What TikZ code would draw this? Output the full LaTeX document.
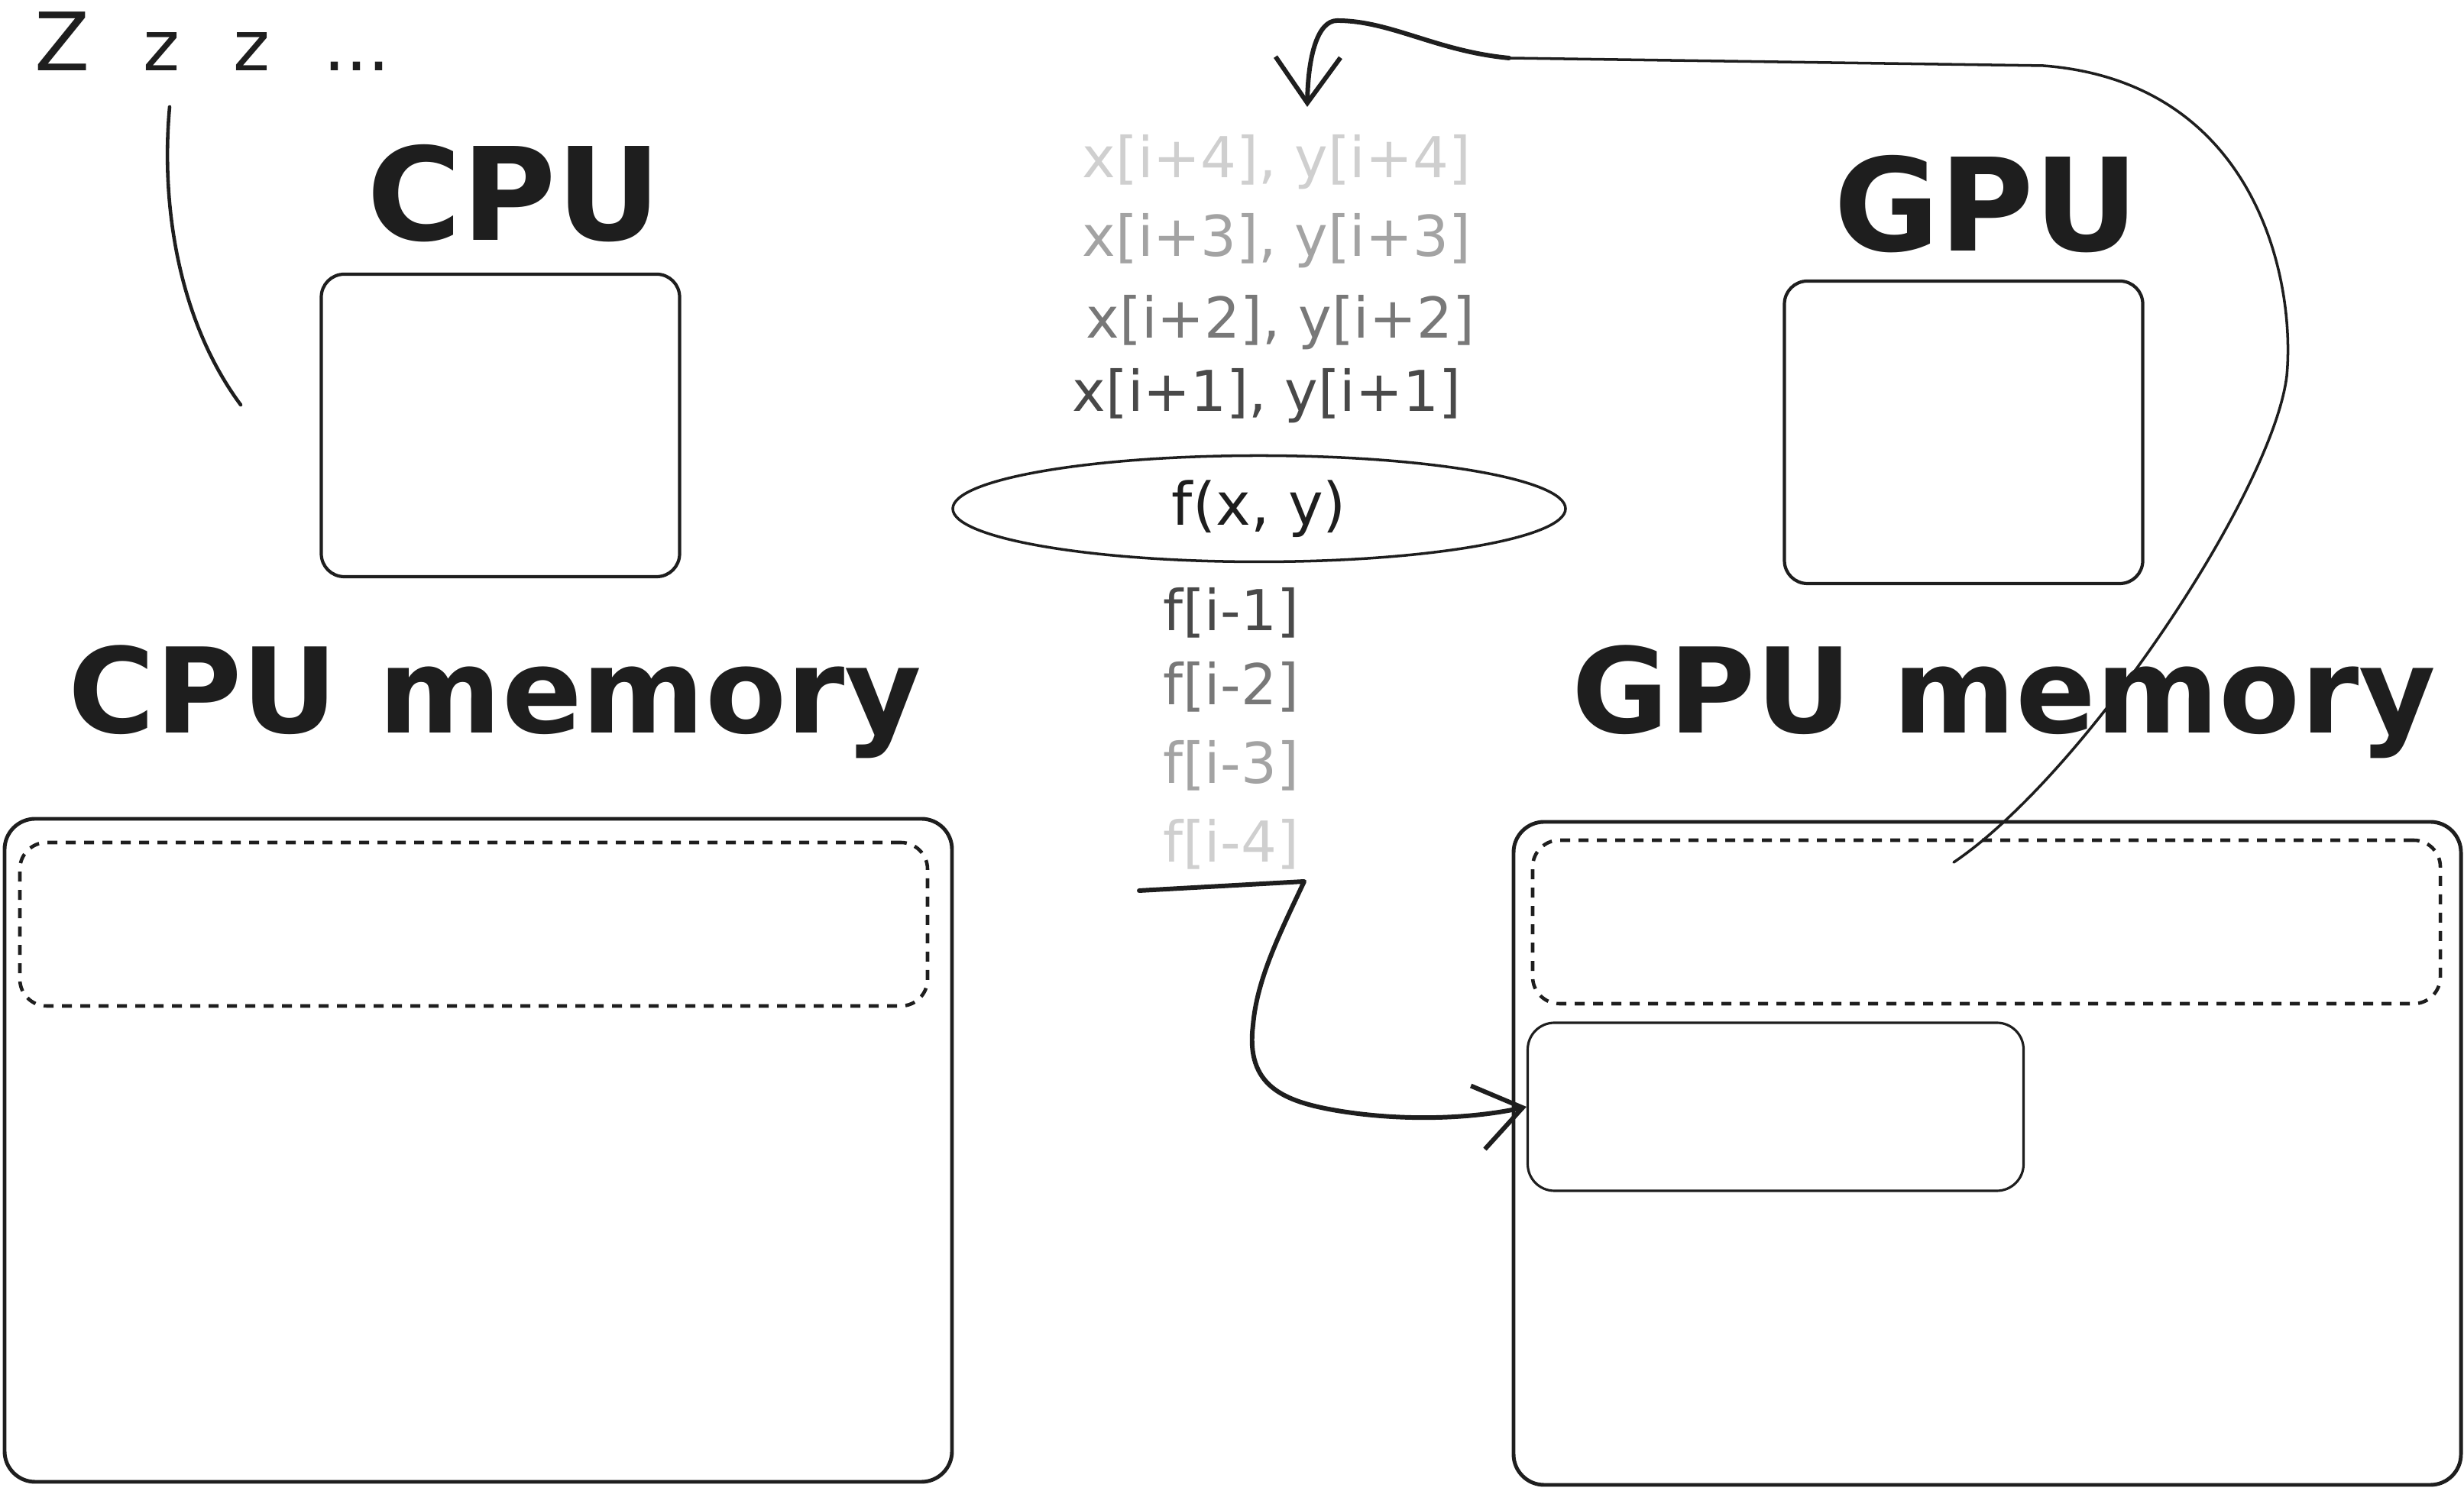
\documentclass[tikz,border=0pt]{standalone}
\usepackage{fontspec}
\setmainfont{DejaVu Sans}
\usetikzlibrary{positioning,arrows.meta,shapes.geometric}
\definecolor{ink}{HTML}{1E1E1E}
\definecolor{shade1}{HTML}{494949}
\definecolor{shade2}{HTML}{787878}
\definecolor{shade3}{HTML}{A3A3A3}
\definecolor{shade4}{HTML}{CFCFCF}

\begin{document}
\begin{tikzpicture}[
  proc/.style={draw=ink, line width=1.2pt, rounded corners=3mm, inner sep=0pt,
               minimum width=46.9mm, minimum height=39.6mm},
  mem/.style={draw=ink, line width=1.4pt, rounded corners=4mm, inner sep=0pt,
              minimum width=124mm, minimum height=86.8mm},
  slot/.style={draw=ink, line width=1.3pt, dash pattern=on 1.3mm off 1.1mm,
               rounded corners=3.5mm, inner sep=0pt, minimum width=118.8mm, minimum height=21.4mm},
  chunk/.style={draw=ink, line width=0.9pt, rounded corners=3.5mm, inner sep=0pt,
                minimum width=64.9mm, minimum height=22mm},
  hdr/.style={font=\fontsize{48}{56}\selectfont\bfseries, text=ink, anchor=base},
  memhdr/.style={font=\fontsize{44}{52}\selectfont\bfseries, text=ink, anchor=base},
  stk/.style={font=\fontsize{21}{25}\selectfont, inner sep=0pt},
  kern/.style={ellipse, draw=ink, line width=1pt, inner sep=0pt, text=ink,
               minimum width=80.2mm, minimum height=13.9mm, font=\fontsize{22}{26}\selectfont},
  flow/.style={-{Straight Barb[length=6mm, width=8.5mm]}, line width=1.7pt, draw=ink,
               line cap=round, line join=round},
  wire/.style={line width=1pt, draw=ink, line cap=round},
]
\useasboundingbox (0,0) rectangle (32.25,19.52);

% ---- sleeping cpu ----
\node[anchor=base west, text=ink, font=\fontsize{26}{30}\selectfont, inner sep=0pt] (zzz) at (0.45,18.59)
      {\fontsize{30}{34}\selectfont Z\hspace{7mm}\fontsize{26}{30}\selectfont z\hspace{7mm}z\hspace{7mm}...};
\coordinate (snore)    at (2.22,18.12);
\coordinate (snoretip) at (3.15,14.22);
\draw[wire, line width=1.3pt] (snore) .. controls (2.10,16.8) and (2.35,15.3) .. (snoretip);

% ---- processors ----
\node[hdr]  (cpulbl) at (6.73,16.37) {CPU};
\node[proc] (cpu)    at (6.55,13.95) {};
\node[hdr]  (gpulbl) at (26.00,16.23) {GPU};
\node[proc] (gpu)    at (25.70,13.86) {};

% ---- memories ----
\node[memhdr] (cpumemlbl) at (6.48,9.92)  {CPU memory};
\node[mem]    (cpumem)    at (6.26,4.46)  {};
\node[slot]   (cpuslot)   at (6.20,7.42)  {};
\node[memhdr] (gpumemlbl) at (26.23,9.92) {GPU memory};
\node[mem]    (gpumem)    at (26.01,4.42) {};
\node[slot]   (gpuslot)   at (26.00,7.45) {};
\node[chunk]  (gpuout)    at (23.24,5.03) {};

% ---- input stream ----
\foreach \n/\x/\y/\c/\t in {x4/16.71/17.40/shade4/{x[i+4], y[i+4]},
                            x3/16.71/16.37/shade3/{x[i+3], y[i+3]},
                            x2/16.76/15.30/shade2/{x[i+2], y[i+2]},
                            x1/16.58/14.34/shade1/{x[i+1], y[i+1]}}{
  \node[stk, text=\c] (\n) at (\x,\y) {\t};
}

% ---- kernel ----
\node[kern] (kernel) at (16.48,12.86) {f(x, y)};

% ---- output stream ----
\foreach \n/\y/\c/\t in {f1/11.50/shade1/{f[i-1]}, f2/10.53/shade2/{f[i-2]},
                         f3/9.50/shade3/{f[i-3]},  f4/8.47/shade4/{f[i-4]}}{
  \node[stk, text=\c] (\n) at (16.11,\y) {\t};
}

% ---- results written back ----
\coordinate (fbar)  at (14.91,7.86);
\coordinate (fhook) at (17.07,7.98);
\draw[flow] (fbar) -- (fhook) .. controls (16.75,7.30) and (16.45,6.70) .. (16.40,6.10)
      .. controls (16.30,5.30) and (16.80,5.10) .. (17.50,4.98)
      .. controls (18.40,4.83) and (19.30,4.88) .. (gpuout.west);

% ---- inputs read from gpu memory ----
\coordinate (gsrc)  at (25.57,8.23);
\coordinate (tbend) at (19.75,18.76);
\coordinate (xin)   at (17.11,18.12);
\draw[wire] (gsrc) .. controls (27.30,9.40) and (29.75,13.10) .. (29.93,14.60)
      .. controls (30.05,15.90) and (29.50,18.45) .. (26.74,18.66) -- (tbend);
\draw[flow] (tbend) .. controls (18.80,18.85) and (18.20,19.25) .. (17.50,19.25)
      .. controls (17.25,19.25) and (17.12,18.80) .. (xin);
\end{tikzpicture}
\end{document}
